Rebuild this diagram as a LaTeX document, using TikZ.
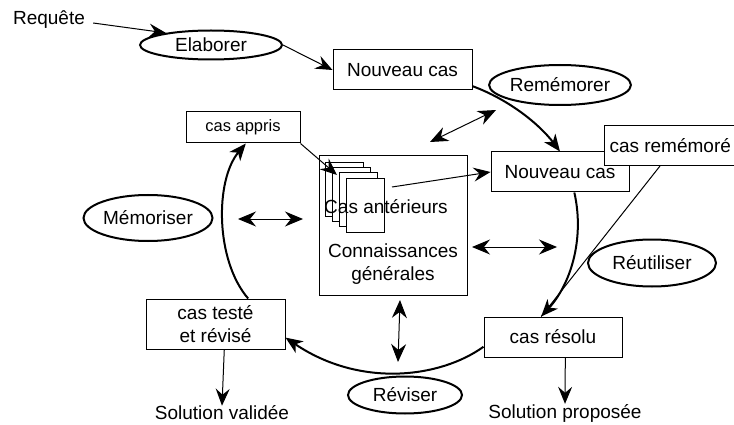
\documentclass[tikz,border=0pt]{standalone}
\usepackage{fontspec}
\setmainfont{Liberation Sans}
\usetikzlibrary{arrows.meta,shapes.geometric}
\begin{document}
\begin{tikzpicture}[x=1pt,y=-1pt,
  txt/.style={font=\fontsize{19}{23}\selectfont, inner sep=0pt},
  box/.style={draw, line width=1pt, fill=white, inner sep=0pt, font=\fontsize{19}{23}\selectfont, align=center},
  oval/.style={draw, ellipse, line width=2pt, inner sep=0pt, font=\fontsize{19}{23}\selectfont},
  page/.style={draw, line width=0.9pt, fill=white, minimum width=38pt, minimum height=54pt, inner sep=0pt},
  tip/.style={-{Stealth[length=17pt,width=14pt,inset=6pt]}},
  dtip/.style={{Stealth[length=18pt,width=15pt,inset=6pt]}-{Stealth[length=18pt,width=15pt,inset=6pt]}},
  thinline/.style={line width=1pt},
  cyc/.style={line width=2pt, -{Stealth[length=17pt,width=14pt,inset=5pt]}}
]
\useasboundingbox (0,0) rectangle (734,425);
\clip (0,0) rectangle (734,425);

% nodes
\node[txt] (req) at (49,20) {Requête};
\node[oval, minimum width=142pt, minimum height=29pt] (elab) at (211,45) {Elaborer};
\node[box, minimum width=139pt, minimum height=40pt] (nc1) at (402.5,70) {Nouveau cas};
\node[oval, minimum width=124pt, minimum height=40pt] (rem) at (560,85) {Remémorer};
\node[box, minimum width=138pt, minimum height=40pt] (nc2) at (560,172) {Nouveau cas};
\node[box, anchor=west, inner xsep=5pt, minimum height=40pt] (crem) at (604,146) {cas remémoré};
\node[box, minimum width=114pt, minimum height=31pt, font=\fontsize{16.5}{20}\selectfont] (appris) at (243,127.5) {cas appris};
\node[box, minimum width=148pt, minimum height=139pt] (kb) at (393,225.5) {};
\node[page, anchor=north west] (p1) at (325,162) {};
\node[page, anchor=north west] (p2) at (332,167) {};
\node[page, anchor=north west] (p3) at (339,172) {};
\node[page, anchor=north west] (p4) at (346,178) {};
\node[txt] (ante) at (386,207) {Cas antérieurs};
\node[txt, align=center] (conn) at (393,264) {Connaissances\\générales};
\node[oval, minimum width=129pt, minimum height=46pt] (memo) at (148,218) {Mémoriser};
\node[oval, minimum width=128pt, minimum height=47pt] (reut) at (652,263) {Réutiliser};
\node[box, minimum width=138pt, minimum height=40pt] (resolu) at (553,337) {cas résolu};
\node[box, minimum width=139pt, minimum height=50pt] (teste) at (215.5,324) {cas testé\\et révisé};
\node[oval, minimum width=114pt, minimum height=37pt] (revi) at (405,395) {Réviser};
\node[txt] (solv) at (222,413) {Solution validée};
\node[txt] (solp) at (565,413) {Solution proposée};

% free ends
\coordinate (ain) at (337,175);
\coordinate (pout) at (392,187);
\coordinate (da1) at (430,142);
\coordinate (da2) at (496,110);
\coordinate (dl1) at (238,219);
\coordinate (dl2) at (303,219);
\coordinate (dr1) at (472,247);
\coordinate (dr2) at (557,247);
\coordinate (db1) at (400,300);
\coordinate (db2) at (398,362);
\coordinate (cs) at (660,166);

% connectors
\draw[thinline, tip] (req.east) ++(8,3) -- (elab.165);
\draw[thinline, tip] (elab.east) -- (nc1.west);
\draw[cyc] (nc1.-13) .. controls (510,100) and (540,125) .. (nc2.north);
\draw[cyc] (nc2.-55) .. controls (585,240) and (570,285) .. (resolu.120);
\draw[cyc] (resolu.-172) .. controls (440,378) and (360,388) .. (teste.-11);
\draw[cyc] (teste.38) .. controls (215,260) and (215,180) .. (appris.-80);
\draw[thinline, tip] (appris.south east) -- (ain);
\draw[thinline, tip] (pout) -- (nc2.west);
\draw[thinline] (cs) -- (resolu.120);
\draw[thinline, dtip] (da1) -- (da2);
\draw[thinline, dtip] (dl1) -- (dl2);
\draw[thinline, dtip] (dr1) -- (dr2);
\draw[thinline, dtip] (db1) -- (db2);
\draw[thinline, tip] (resolu.-59) -- (solp.north);
\draw[thinline, tip] (teste.-71) -- (solv.north);
\end{tikzpicture}
\end{document}
